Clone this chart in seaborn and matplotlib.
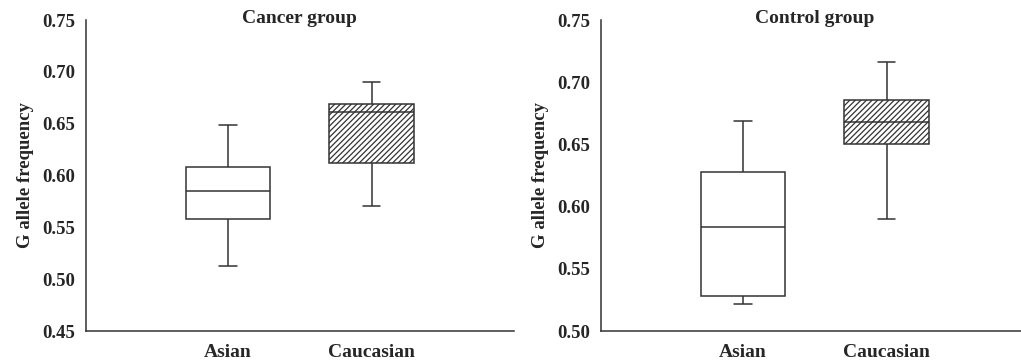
import matplotlib
matplotlib.use('Agg')
import matplotlib.pyplot as plt
import pandas as pd
import seaborn as sns

# Box summaries: min, Q1, median, Q3, max
groups = ['Asian', 'Caucasian']
cancer_asian = [0.513, 0.558, 0.585, 0.608, 0.649]
cancer_caucasian = [0.571, 0.612, 0.661, 0.669, 0.690]
control_asian = [0.522, 0.528, 0.584, 0.628, 0.669]
control_caucasian = [0.590, 0.650, 0.668, 0.686, 0.716]

panel_titles = ['Cancer group', 'Control group']
ylims = [(0.45, 0.75), (0.50, 0.75)]
yticks = [[0.45, 0.50, 0.55, 0.60, 0.65, 0.70, 0.75],
          [0.50, 0.55, 0.60, 0.65, 0.70, 0.75]]

sns.set_style('white')
plt.rcParams['font.family'] = ['Liberation Serif', 'DejaVu Serif']
plt.rcParams['font.weight'] = 'bold'
plt.rcParams['hatch.linewidth'] = 0.9
plt.rcParams['hatch.color'] = '#333333'


def make_df(asian, caucasian):
    # five values per group -> quartiles land exactly on the read values
    return pd.DataFrame({
        'group': [groups[0]] * len(asian) + [groups[1]] * len(caucasian),
        'value': asian + caucasian,
    })


dfs = [make_df(cancer_asian, cancer_caucasian),
       make_df(control_asian, control_caucasian)]

fig = plt.figure(figsize=(10.21, 3.62), dpi=100)
ax_left = fig.add_axes([0.0842, 0.0856, 0.419, 0.859])
ax_right = fig.add_axes([0.5886, 0.0856, 0.419, 0.859])

for ax, df, title, ylim, ticks in zip([ax_left, ax_right], dfs, panel_titles, ylims, yticks):
    sns.boxplot(data=df, x='group', y='value', order=groups, ax=ax,
                whis=(0, 100), width=0.59, color='white', linecolor='#333333',
                linewidth=1.1, capwidths=0.12)
    ax.patches[1].set_hatch('//////')
    ax.patches[1].set_edgecolor('#333333')

    ax.set_xlim(-0.99, 1.99)
    ax.set_ylim(*ylim)
    ax.set_yticks(ticks)
    ax.set_yticklabels([f'{t:.2f}' for t in ticks], fontsize=13.5, fontweight='bold')
    ax.set_xticks([0, 1])
    ax.set_xticklabels(groups, fontsize=14, fontweight='bold')
    ax.set_xlabel('')
    ax.set_ylabel('G allele frequency', fontsize=13.5, fontweight='bold', labelpad=6)
    ax.set_title(title, fontsize=14, fontweight='bold', pad=-2)

    sns.despine(ax=ax)
    for side in ['left', 'bottom']:
        ax.spines[side].set_color('#333333')
        ax.spines[side].set_linewidth(1.1)
    ax.tick_params(axis='y', direction='in', length=2.5, width=0.8, pad=8, color='#333333')
    ax.tick_params(axis='x', length=0, pad=9)

fig.savefig('out.png', dpi=100)
